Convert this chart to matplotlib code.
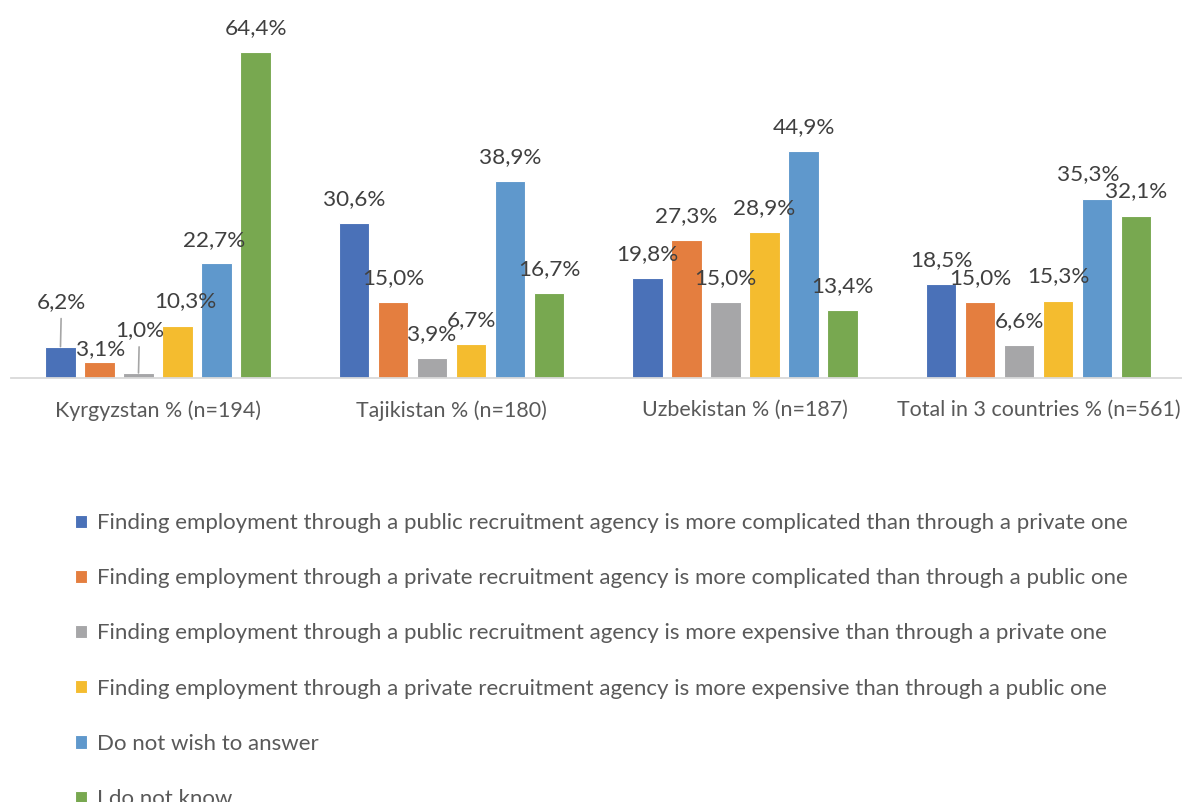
import matplotlib
matplotlib.use("Agg")
import matplotlib.pyplot as plt
import numpy as np

plt.rcParams["font.family"] = ["Lato", "DejaVu Sans"]

# ---- data -------------------------------------------------------------
groups = [
    "Kyrgyzstan % (n=194)",
    "Tajikistan % (n=180)",
    "Uzbekistan % (n=187)",
    "Total in 3 countries % (n=561)",
]
series_names = [
    "Finding employment through a public recruitment agency is more complicated than through a private one",
    "Finding employment through a private recruitment agency is more complicated than through a public one",
    "Finding employment through a public recruitment agency is more expensive than through a private one",
    "Finding employment through a private recruitment agency is more expensive than through a public one",
    "Do not wish to answer",
    "I do not know",
]
public_more_complicated = [6.2, 30.6, 19.8, 18.5]
private_more_complicated = [3.1, 15.0, 27.3, 15.0]
public_more_expensive = [1.0, 3.9, 15.0, 6.6]
private_more_expensive = [10.3, 6.7, 28.9, 15.3]
no_answer = [22.7, 38.9, 44.9, 35.3]
do_not_know = [64.4, 16.7, 13.4, 32.1]

values = [
    public_more_complicated,
    private_more_complicated,
    public_more_expensive,
    private_more_expensive,
    no_answer,
    do_not_know,
]

# ---- styling ----------------------------------------------------------
colors = ["#4A71B8", "#E47E3F", "#A6A6A8", "#F4BC2F", "#5F98CC", "#78A850"]
label_color = "#404040"
text_color = "#595959"
fs_labels = 16.2
fs_ticks = 15.4
fs_legend = 16.0

W, H = 1182, 802
fig = plt.figure(figsize=(W / 100, H / 100), dpi=100)
# axes placed in pixel units
ax_left, ax_width = 11.25, 1174
base_px, top_px = 378, 23.8
ax = fig.add_axes([ax_left / W, (H - base_px) / H, ax_width / W, (base_px - top_px) / H])

x = np.arange(len(groups))
step = 0.1329
width = 0.105
n = len(values)

bars_by_series = []
for i, (vals, col, name) in enumerate(zip(values, colors, series_names)):
    pos = x + (i - (n - 1) / 2) * step
    ax.bar(pos, vals, width=width, color=col, edgecolor="white",
           linewidth=0.8, label=name, zorder=2)
    bars_by_series.append((pos, vals))

ax.set_xlim(-0.5, 3.5)
ax.set_ylim(0, 70)

# value labels: default centre 24 px above the bar top; a few are nudged
px2pt = 0.72
nudges = {  # (group, series): (dx px, height above bar top px, leader line)
    (0, 0): (1, 45, True),
    (0, 1): (1, 13, False),
    (0, 2): (1, 43, True),
    (0, 3): (8, 25, False),
    (0, 4): (-2, 23, False),
    (3, 4): (-9, 25, False),
}
for si, (pos, vals) in enumerate(bars_by_series):
    for gi, (px_, v) in enumerate(zip(pos, vals)):
        dx, dy, leader = nudges.get((gi, si), (0, 24, False))
        txt = f"{v:.1f}".replace(".", ",") + "%"
        kw = {}
        if leader:
            kw["arrowprops"] = dict(arrowstyle="-", color="#A6A6A6", lw=1.2,
                                    shrinkA=3, shrinkB=0)
        ax.annotate(txt, xy=(px_, v), xytext=(dx * px2pt, dy * px2pt),
                    textcoords="offset points", ha="center", va="center",
                    fontsize=fs_labels, color=label_color, zorder=3, **kw)

# axes cosmetics
for side in ["top", "right", "left"]:
    ax.spines[side].set_visible(False)
ax.spines["bottom"].set_color("#D9D9D9")
ax.spines["bottom"].set_linewidth(1.3)
ax.set_yticks([])
ax.set_xticks(x)
ax.set_xticklabels(groups, fontsize=fs_ticks, color=text_color)
ax.tick_params(axis="x", length=0, pad=16)

# legend, single column under the plot
handles, labels = ax.get_legend_handles_labels()
leg = fig.legend(handles, labels, loc="upper left",
                 bbox_to_anchor=(75 / W, 1 - 513 / H),
                 frameon=False, fontsize=fs_legend, handlelength=0.54, handleheight=0.54,
                 handletextpad=0.45, labelspacing=1.585, borderpad=0, borderaxespad=0)
for t in leg.get_texts():
    t.set_color(text_color)

fig.savefig("out.png", dpi=100, facecolor="white")
